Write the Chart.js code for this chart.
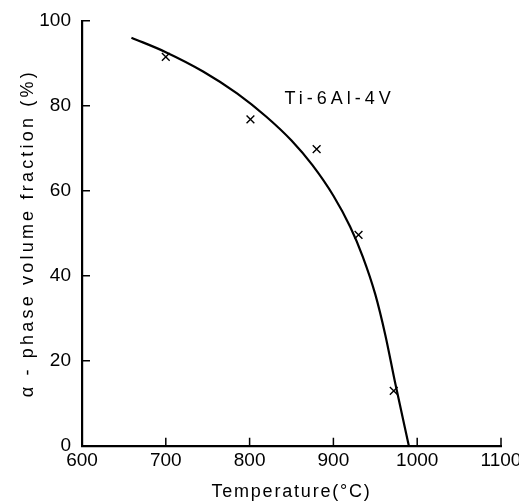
<!DOCTYPE html>
<html>
<head>
<meta charset="utf-8">
<script src="https://cdn.jsdelivr.net/npm/chart.js@4.4.1/dist/chart.umd.min.js"></script>
<style>
html,body{margin:0;padding:0;background:#fff;}
#wrap{width:519px;height:504px;}
</style>
</head>
<body>
<div id="wrap"><canvas id="c" width="519" height="504"></canvas></div>
<script>
// Fitted curve
const curveT = [659, 700, 745, 785, 820, 850, 875, 900, 920, 935, 950, 962, 974, 990];
const curveF = [96.0, 92.6, 88.0, 82.9, 77.4, 71.8, 66.0, 58.8, 51.5, 44.5, 35.6, 26.0, 14.5, 0];
// Measured points (crosses)
const measT = [700, 801, 880, 930, 972];
const measF = [91.5, 76.8, 69.8, 49.6, 12.9];
// Axes
const xTicks = [600, 700, 800, 900, 1000, 1100];
const yTicks = [0, 20, 40, 60, 80, 100];
const xTitle = 'Temperature(°C)';
const yTitle = 'α - phase volume fraction (%)';
const alloyLabel = 'Ti-6Al-4V';
const alloyPos = {x: 905, y: 81.6};

const FONT = '"Liberation Sans", Arial, sans-serif';

const innerTicks = {
  id: 'innerTicks',
  afterDraw(chart) {
    const ctx = chart.ctx, xs = chart.scales.x, ys = chart.scales.y;
    const a = chart.chartArea;
    ctx.save();
    ctx.strokeStyle = '#000';
    ctx.lineWidth = 1.5;
    ctx.beginPath();
    xTicks.forEach(v => {
      if (v === xTicks[0]) return;
      const px = xs.getPixelForValue(v);
      ctx.moveTo(px, a.bottom);
      ctx.lineTo(px, a.bottom - 8);
    });
    yTicks.forEach(v => {
      if (v === yTicks[0]) return;
      const py = ys.getPixelForValue(v);
      ctx.moveTo(a.left, py);
      ctx.lineTo(a.left + 8, py);
    });
    ctx.stroke();
    // alloy label
    ctx.fillStyle = '#000';
    ctx.font = '18px ' + FONT;
    ctx.letterSpacing = '4px';
    ctx.textAlign = 'center';
    ctx.textBaseline = 'middle';
    ctx.fillText(alloyLabel, xs.getPixelForValue(alloyPos.x) + 2, ys.getPixelForValue(alloyPos.y));
    ctx.restore();
  }
};

function patchTitle(scale, spacing) {
  if (scale._patched) return;
  scale._patched = true;
  const orig = scale.drawTitle;
  scale.drawTitle = function() {
    const ctx = this.ctx;
    const prev = ctx.letterSpacing;
    ctx.letterSpacing = spacing;
    orig.apply(this, arguments);
    ctx.letterSpacing = prev || '0px';
  };
}

new Chart(document.getElementById('c'), {
  type: 'scatter',
  data: {
    datasets: [
      {
        type: 'line',
        data: curveT.map((t, i) => ({x: t, y: curveF[i]})),
        borderColor: '#000',
        borderWidth: 2.2,
        pointRadius: 0,
        cubicInterpolationMode: 'monotone',
        fill: false
      },
      {
        data: measT.map((t, i) => ({x: t, y: measF[i]})),
        pointStyle: 'crossRot',
        pointRadius: 5.5,
        borderColor: '#000',
        borderWidth: 1.4,
        backgroundColor: '#000'
      }
    ]
  },
  options: {
    responsive: false,
    animation: false,
    layout: {padding: {left: 0, right: 18, top: 20.7, bottom: 0}},
    plugins: {legend: {display: false}, tooltip: {enabled: false}},
    scales: {
      x: {
        type: 'linear', min: 600, max: 1100,
        afterBuildTicks: s => { s.ticks = xTicks.map(v => ({value: v})); },
        afterFit: s => { s.height = 58.3; s.paddingLeft = 0; s.paddingRight = 0; patchTitle(s, '1.8px'); },
        grid: {display: false, drawTicks: false},
        border: {display: true, color: '#000', width: 2.2},
        ticks: {color: '#000', font: {family: FONT, size: 19}, padding: 4, maxRotation: 0, callback: v => String(v)},
        title: {display: true, text: xTitle, color: '#000', font: {family: FONT, size: 18}, padding: {top: 0, bottom: 1}}
      },
      y: {
        type: 'linear', min: 0, max: 100,
        afterBuildTicks: s => { s.ticks = yTicks.map(v => ({value: v})); },
        afterFit: s => { s.width = 82; s.paddingTop = 0; s.paddingBottom = 0; patchTitle(s, '3.2px'); },
        grid: {display: false, drawTicks: false},
        border: {display: true, color: '#000', width: 2.2},
        ticks: {color: '#000', font: {family: FONT, size: 19}, padding: 11, callback: v => String(v)},
        title: {display: true, text: yTitle, color: '#000', font: {family: FONT, size: 18}, padding: {top: 17, bottom: 0}}
      }
    }
  },
  plugins: [innerTicks]
});
</script>
</body>
</html>
